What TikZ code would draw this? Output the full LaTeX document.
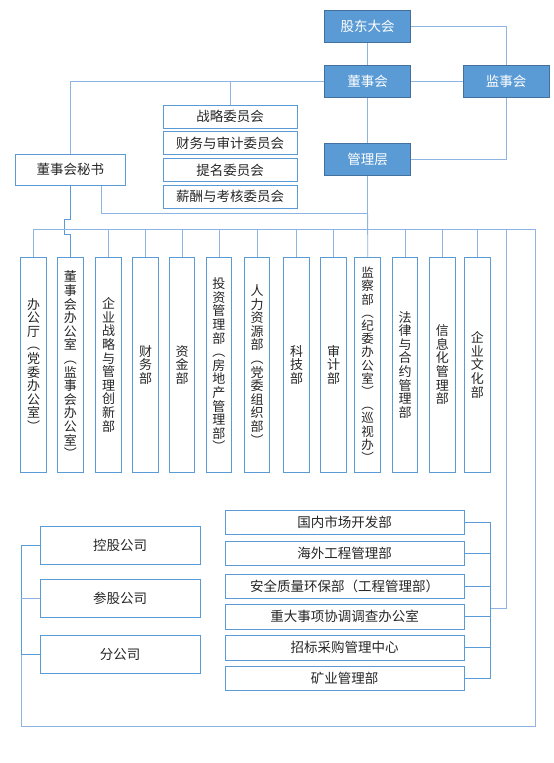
\documentclass[tikz,border=0pt]{standalone}
\usepackage{fontspec}
\setmainfont{Noto Sans CJK SC}
\definecolor{bfill}{HTML}{5B9BD5}
\definecolor{bedge}{HTML}{41719C}
\definecolor{wedge}{HTML}{5B9BD5}
\definecolor{conn}{HTML}{8EB4E3}
\definecolor{dconn}{HTML}{5B9BD5}
\definecolor{txt}{HTML}{262626}
\begin{document}
\begin{tikzpicture}[x=1pt,y=-1pt,
  bluebox/.style={draw=bedge, fill=bfill, text=white, line width=1pt, inner sep=0pt,
    minimum width=86.4pt, minimum height=32pt, font=\fontsize{13.5}{15}\selectfont},
  combox/.style={draw=wedge, fill=white, text=txt, line width=1pt, inner sep=0pt,
    minimum width=133.7pt, minimum height=23.3pt, font=\fontsize{13.5}{15}\selectfont},
  whitebox/.style={draw=wedge, fill=white, text=txt, line width=1pt, inner sep=0pt,
    font=\fontsize{13.5}{15}\selectfont},
  deptbox/.style={draw=wedge, fill=white, text=txt, line width=1pt, inner sep=0pt,
    minimum width=25.5pt, minimum height=215pt, align=center,
    font=\fontsize{13}{13.6}\selectfont},
  subbox/.style={whitebox, minimum width=160pt, minimum height=37.6pt},
  rbox/.style={whitebox, minimum width=239pt, minimum height=24.4pt},
  link/.style={draw=conn, line width=0.8pt},
  dlink/.style={draw=dconn, line width=1pt}
]
\useasboundingbox (0,0) rectangle (554,763);
\fill[white] (0,0) rectangle (554,763);

% top governance
\node[bluebox] (gd) at (367.5,26.2) {股东大会};
\node[bluebox] (dsh) at (367.5,81.7) {董事会};
\node[bluebox] (jsh) at (506.2,81.7) {监事会};
\node[bluebox] (glc) at (367.5,159.3) {管理层};

\node[combox] (zl) at (230.2,116.7) {战略委员会};
\node[combox] (cw) at (230.2,143.3) {财务与审计委员会};
\node[combox] (tm) at (230.2,170.0) {提名委员会};
\node[combox] (xc) at (230.2,196.7) {薪酬与考核委员会};

\node[whitebox, minimum width=110pt, minimum height=31.3pt] (ms) at (70.3,169.7) {董事会秘书};

% departments
\node[deptbox] (d1) at (33.6,364.8) {办\\公\\厅\\︵\\党\\委\\办\\公\\室\\︶};
\node[deptbox] (d2) at (70.3,364.8) {董\\事\\会\\办\\公\\室\\︵\\监\\事\\会\\办\\公\\室\\︶};
\node[deptbox] (d3) at (108.7,364.8) {企\\业\\战\\略\\与\\管\\理\\创\\新\\部};
\node[deptbox] (d4) at (145.6,364.8) {财\\务\\部};
\node[deptbox] (d5) at (182.0,364.8) {资\\金\\部};
\node[deptbox] (d6) at (218.9,364.8) {投\\资\\管\\理\\部\\︵\\房\\地\\产\\管\\理\\部\\︶};
\node[deptbox] (d7) at (257.0,364.8) {人\\力\\资\\源\\部\\︵\\党\\委\\组\\织\\部\\︶};
\node[deptbox] (d8) at (296.5,364.8) {科\\技\\部};
\node[deptbox] (d9) at (333.5,364.8) {审\\计\\部};
\node[deptbox, font=\fontsize{12.5}{13.2}\selectfont] (d10) at (367.7,364.8) {监\\察\\部\\︵\\纪\\委\\办\\公\\室\\︶\\︵\\巡\\视\\办\\︶};
\node[deptbox] (d11) at (405.1,364.8) {法\\律\\与\\合\\约\\管\\理\\部};
\node[deptbox] (d12) at (442.3,364.8) {信\\息\\化\\管\\理\\部};
\node[deptbox] (d13) at (477.3,364.8) {企\\业\\文\\化\\部};

% subsidiaries
\node[subbox] (kg) at (120,545.5) {控股公司};
\node[subbox] (cg) at (120,598.3) {参股公司};
\node[subbox] (fg) at (120,654.7) {分公司};

% right offices
\node[rbox] (r1) at (344.5,522.7) {国内市场开发部};
\node[rbox] (r2) at (344.5,553.4) {海外工程管理部};
\node[rbox] (r3) at (344.5,586.2) {安全质量环保部（工程管理部）};
\node[rbox] (r4) at (344.5,616.8) {重大事项协调调查办公室};
\node[rbox] (r5) at (344.5,647.8) {招标采购管理中心};
\node[rbox] (r6) at (344.5,678.2) {矿业管理部};

% helper coordinates
\coordinate (busL) at (33.6,229);
\coordinate (busR) at (535,229);
\coordinate (busM) at (506.3,229);
\coordinate (outBR) at (535,726);
\coordinate (outBL) at (21.3,726);
\coordinate (lbrTop) at (21.3,545.5);
\coordinate (rbrX) at (490.7,0);
\coordinate (rbrJoin) at (490.7,608.3);
\coordinate (msx) at (101,0);
\coordinate (j1) at (367.5,213.3);
\coordinate (h1) at (70.3,219.3);
\coordinate (h2) at (64.3,219.3);
\coordinate (h3) at (64.3,234);
\coordinate (h4) at (70.3,234);

% top connectors
\draw[link] (gd.south) -- (dsh.north);
\draw[link] (gd.east) -| (jsh.north);
\draw[link] (dsh.east) -- (jsh.west);
\draw[link] (jsh.south) |- (glc.east);
\draw[link] (dsh.south) -- (glc.north);
\draw[link] (dsh.west) -| (ms.north);
\draw[link] (zl.north) -- (zl.north |- dsh.west);
\draw[link] (glc.south) -- (d10.north);
\draw[link] (ms.south -| msx) |- (j1);

% secretary to board office, hopping over the bus
\draw[dlink] (ms.south) -- (h1) -- (h2) -- (h3) -- (h4) -- (d2.north);

% bus
\draw[link] (busL) -- (busR);
\foreach \d in {d1,d3,d4,d5,d6,d7,d8,d9,d11,d12,d13}{
  \draw[link] (\d.north) -- (\d.north |- busL);
}
% outer loop to subsidiaries
\draw[link] (busR) -- (outBR) -- (outBL) -- (lbrTop);
\draw[dlink] (lbrTop) -- (kg.west);
\draw[dlink] (lbrTop) -- (outBL |- fg.west);
\draw[link] (outBL |- cg.west) -- (cg.west);
\draw[dlink] (outBL |- fg.west) -- (fg.west);

% right bracket
\draw[link] (busM) -- (busM |- rbrJoin) -- (rbrJoin);
\draw[dlink] (r1.east -| rbrX) -- (r6.east -| rbrX);
\foreach \r in {r1,r2,r3,r4,r5,r6}{
  \draw[dlink] (\r.east) -- (\r.east -| rbrX);
}
\end{tikzpicture}
\end{document}
